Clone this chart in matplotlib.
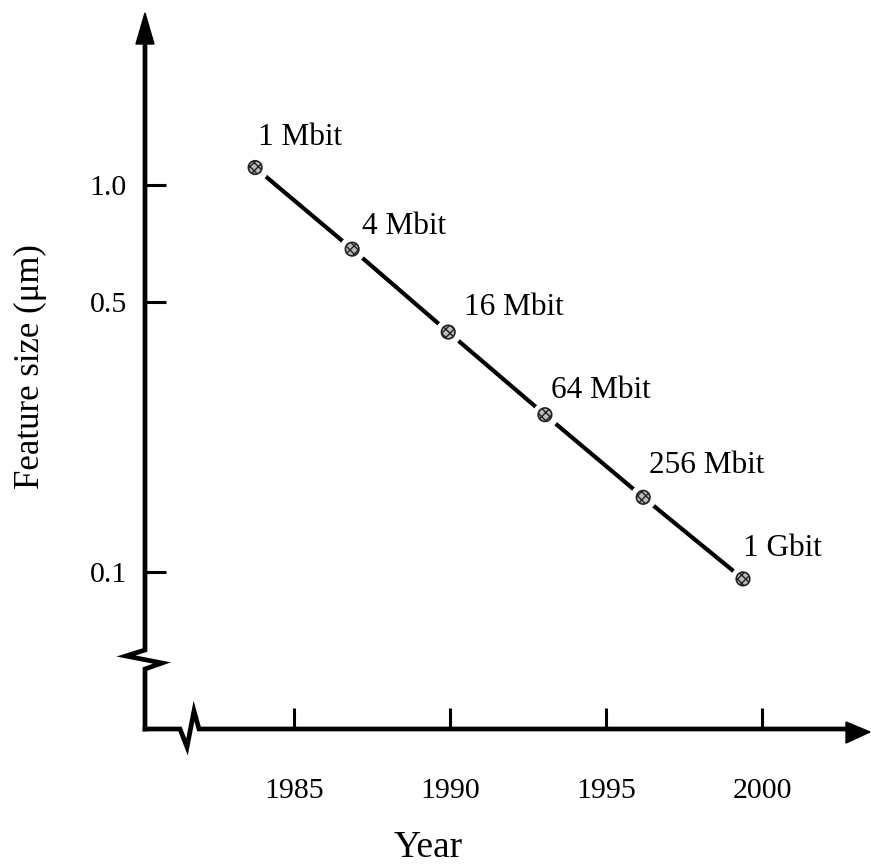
import matplotlib
matplotlib.use("Agg")
import matplotlib.pyplot as plt
from matplotlib.lines import Line2D
from matplotlib.patches import Polygon

plt.rcParams['font.family'] = ['Liberation Serif', 'DejaVu Serif']
plt.rcParams['hatch.linewidth'] = 1.0

# Data
years = [1983.75, 1986.86, 1989.94, 1993.04, 1996.19, 1999.39]
feature_um = [1.11, 0.683, 0.417, 0.255, 0.156, 0.096]
labels = ["1 Mbit", "4 Mbit", "16 Mbit", "64 Mbit", "256 Mbit", "1 Gbit"]
x_ticks = [1985, 1990, 1995, 2000]
y_ticks = [0.1, 0.5, 1.0]
y_tick_labels = ["0.1", "0.5", "1.0"]

# label offsets (pixels) relative to markers
label_offsets = [(3, 16), (10, 8), (16, 10), (6, 10), (6, 17), (0, 16)]

W, H = 871, 867
fig = plt.figure(figsize=(W / 100, H / 100), dpi=100)

def fx(px):
    return px / W

def fy(py):
    return 1 - py / H

ax = fig.add_axes([fx(145), fy(729), fx(865) - fx(145), fy(20) - fy(729)])
ax.set_xlim(1980.22, 2003.30)
ax.set_yscale('log')
ax.set_ylim(0.0393, 2.67)
for s in ax.spines.values():
    s.set_visible(False)
ax.patch.set_visible(False)

ax.set_xticks(x_ticks)
ax.set_xticklabels([str(t) for t in x_ticks])
ax.set_yticks(y_ticks)
ax.set_yticklabels(y_tick_labels)
ax.minorticks_off()
ax.tick_params(axis='both', direction='in', length=15, width=2.2, labelsize=21.5)
ax.tick_params(axis='x', pad=35)
ax.tick_params(axis='y', pad=13)

# data line
ax.plot(years, feature_um, color='black', lw=3.0, zorder=2, clip_on=False)
ax.plot(years, feature_um, linestyle='none', marker='o', ms=18,
        mfc='white', mec='white', zorder=3, clip_on=False)
ax.scatter(years, feature_um, s=95, facecolor='#bbbbbb', edgecolor='#222222',
           hatch='xxxx', linewidths=1.2, zorder=4, clip_on=False)

for xv, yv, lab, off in zip(years, feature_um, labels, label_offsets):
    ax.annotate(lab, (xv, yv), xytext=(off[0] * 0.72, off[1] * 0.72),
                textcoords='offset points', fontsize=22.5, ha='left', va='bottom')

# axis lines with breaks and arrows (figure decorations)
yaxis_x = [145, 145, 126, 162, 145, 145]
yaxis_y = [40, 650, 656, 663, 669, 729]
fig.add_artist(Line2D([fx(v) for v in yaxis_x], [fy(v) for v in yaxis_y],
                      color='black', lw=3.4, transform=fig.transFigure,
                      solid_joinstyle='miter'))
xaxis_x = [145, 180, 187, 194, 199, 850]
xaxis_y = [729, 729, 747, 711, 729, 729]
fig.add_artist(Line2D([fx(v) for v in xaxis_x], [fy(v) for v in xaxis_y],
                      color='black', lw=3.4, transform=fig.transFigure,
                      solid_joinstyle='miter'))
fig.add_artist(Polygon([(fx(145), fy(13)), (fx(136), fy(44)), (fx(154), fy(44))],
                       closed=True, color='black', transform=fig.transFigure))
fig.add_artist(Polygon([(fx(870), fy(732)), (fx(846), fy(722)), (fx(846), fy(743))],
                       closed=True, color='black', transform=fig.transFigure))

fig.text(fx(428), fy(848), "Year", fontsize=27, ha='center', va='center')
fig.text(fx(30), fy(367), "Feature size (μm)", fontsize=25, ha='center',
         va='center', rotation=90)

fig.savefig("out.png", dpi=100)
